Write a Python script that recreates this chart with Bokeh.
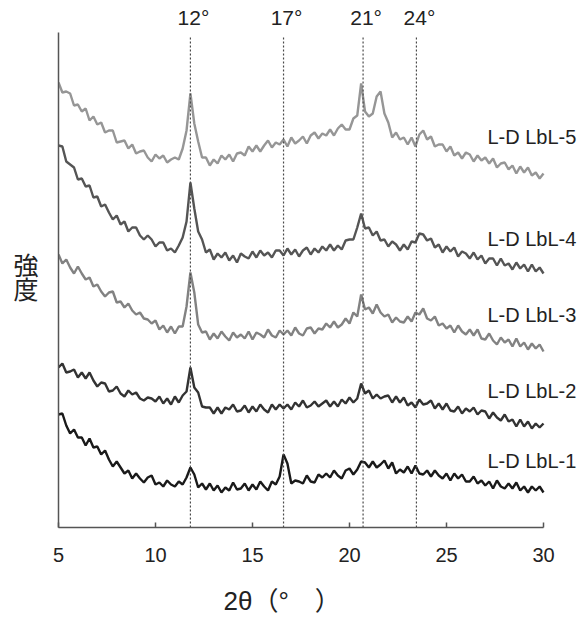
from bokeh.plotting import figure
from bokeh.models import Range1d, FixedTicker, Title
from bokeh.core.properties import value
from bokeh.embed import file_html
from bokeh.resources import INLINE

# ---- data ----
two_theta = [round(5.0 + 0.2 * i, 1) for i in range(126)]  # scan grid 5..30 deg

lbl5 = [445, 435, 436, 434, 422, 423, 416, 419, 407, 411,
        403, 405, 395, 397, 397, 385, 386, 387, 379, 383,
        374, 376, 377, 370, 366, 373, 369, 372, 365, 368,
        370, 368, 379, 397, 434, 404, 386, 370, 370, 362,
        368, 364, 372, 368, 373, 366, 374, 375, 372, 381,
        376, 382, 376, 382, 387, 380, 385, 383, 388, 381,
        390, 384, 387, 391, 384, 392, 395, 389, 394, 392,
        398, 392, 399, 403, 398, 398, 409, 412, 444, 416,
        411, 414, 431, 436, 414, 405, 390, 395, 388, 390,
        383, 390, 381, 393, 397, 388, 391, 381, 383, 383,
        376, 381, 372, 375, 369, 375, 373, 366, 372, 367,
        370, 364, 369, 360, 364, 365, 358, 362, 354, 361,
        355, 360, 352, 355, 349, 354]

lbl4 = [382, 381, 366, 363, 360, 348, 349, 341, 342, 330,
        331, 321, 323, 315, 308, 312, 303, 306, 296, 300,
        300, 292, 288, 292, 288, 281, 285, 285, 277, 279,
        275, 282, 290, 306, 345, 319, 296, 288, 275, 278,
        268, 274, 270, 275, 267, 272, 265, 274, 271, 269,
        276, 270, 277, 272, 275, 270, 277, 277, 272, 279,
        273, 278, 271, 277, 280, 273, 279, 275, 281, 277,
        283, 277, 282, 278, 287, 288, 288, 300, 314, 299,
        300, 292, 296, 287, 288, 281, 286, 283, 277, 283,
        278, 286, 285, 294, 293, 287, 289, 280, 283, 275,
        281, 276, 280, 271, 276, 274, 269, 275, 268, 272,
        264, 269, 269, 262, 269, 262, 264, 258, 265, 259,
        263, 256, 263, 256, 260, 254]

lbl3 = [273, 264, 268, 260, 254, 261, 254, 248, 250, 241,
        243, 236, 231, 235, 236, 225, 226, 220, 224, 217,
        213, 215, 209, 208, 204, 207, 198, 202, 195, 201,
        194, 201, 201, 221, 255, 235, 203, 195, 196, 188,
        194, 189, 196, 191, 187, 195, 190, 193, 189, 196,
        188, 195, 193, 190, 198, 192, 190, 197, 193, 197,
        192, 200, 194, 192, 199, 200, 194, 199, 198, 204,
        200, 206, 200, 203, 209, 204, 215, 211, 233, 218,
        220, 214, 223, 215, 211, 213, 205, 210, 206, 205,
        211, 206, 215, 213, 219, 209, 207, 211, 202, 204,
        199, 202, 195, 202, 196, 193, 198, 192, 198, 189,
        188, 194, 187, 183, 190, 185, 188, 181, 189, 181,
        185, 178, 184, 179, 183, 176]

lbl2 = [160, 164, 155, 156, 158, 150, 155, 149, 155, 147,
        141, 145, 144, 136, 137, 141, 134, 131, 137, 133,
        135, 129, 127, 130, 129, 126, 131, 124, 129, 123,
        131, 125, 132, 136, 160, 140, 135, 121, 120, 120,
        114, 120, 114, 120, 118, 123, 116, 117, 122, 115,
        121, 116, 123, 118, 115, 123, 118, 123, 119, 123,
        118, 125, 121, 127, 120, 122, 126, 121, 124, 127,
        121, 126, 121, 128, 124, 130, 125, 129, 144, 134,
        137, 129, 133, 129, 131, 132, 125, 131, 125, 130,
        122, 125, 120, 128, 123, 124, 127, 119, 124, 118,
        124, 117, 116, 121, 114, 119, 116, 120, 113, 117,
        116, 109, 115, 110, 107, 113, 106, 108, 101, 108,
        101, 106, 99, 104, 100, 104]

lbl1 = [113, 114, 102, 94, 98, 90, 90, 82, 89, 80,
        81, 73, 77, 68, 61, 66, 60, 54, 57, 49,
        54, 49, 45, 50, 52, 43, 45, 41, 47, 43,
        41, 46, 43, 50, 60, 53, 40, 44, 38, 44,
        37, 42, 35, 40, 37, 45, 38, 39, 44, 37,
        43, 38, 46, 41, 37, 46, 43, 51, 73, 64,
        44, 47, 46, 44, 52, 46, 45, 53, 50, 54,
        50, 57, 52, 49, 57, 59, 53, 58, 66, 65,
        60, 66, 60, 63, 67, 59, 65, 54, 58, 55,
        61, 54, 62, 54, 53, 57, 51, 57, 52, 49,
        54, 47, 54, 49, 53, 46, 46, 51, 44, 47,
        42, 46, 39, 47, 41, 39, 44, 39, 45, 37,
        41, 35, 41, 37, 41, 35]

series_names = ["L-D LbL-5", "L-D LbL-4", "L-D LbL-3", "L-D LbL-2", "L-D LbL-1"]
series_values = [lbl5, lbl4, lbl3, lbl2, lbl1]
peak_positions = [11.8, 16.6, 20.7, 23.45]
peak_labels = ["12°", "17°", "21°", "24°"]
x_ticks = [5, 10, 15, 20, 25, 30]
x_title = "2θ（°　）"
y_title = "\n強\n度"

# ---- styling / layout ----
series_colors = ["#969696", "#555555", "#828282", "#333333", "#1a1a1a"]
name_y = [391, 289, 213, 137, 67]
FONT = "Liberation Sans"
CJK = "Noto Sans CJK JP"

p = figure(width=586, height=634, output_backend="svg", toolbar_location=None,
           x_range=Range1d(5, 5 + 528 / 19.4), y_range=Range1d(0, 527),
           min_border_left=58, min_border_right=0, min_border_top=0,
           min_border_bottom=107)
p.outline_line_color = None
p.xgrid.visible = False
p.ygrid.visible = False
p.background_fill_color = "white"
p.border_fill_color = "white"

for ys, col in zip(series_values, series_colors):
    p.line(two_theta, ys, line_color=col, line_width=2.4, line_join="bevel")

p.segment(x0=peak_positions, y0=[0] * len(peak_positions),
          x1=peak_positions, y1=[490] * len(peak_positions),
          line_color="#4a4a4a", line_width=1.2, line_dash="2 2")

p.text(x=peak_positions, y=[510] * len(peak_positions), text=peak_labels,
       text_font=value(FONT), text_font_size="21px", text_color="#222222",
       text_align="center", text_baseline="middle", x_offset=3)

p.text(x=[27.11] * len(series_names), y=name_y, text=series_names,
       text_font=value(FONT), text_font_size="20px", text_color="#222222",
       text_align="left", text_baseline="middle")

# axes
xa = p.xaxis[0]
xa.ticker = FixedTicker(ticks=x_ticks)
xa.bounds = (5, 30)
xa.major_tick_in = 5
xa.major_tick_out = 0
xa.minor_tick_line_color = None
xa.axis_line_color = "#555555"
xa.axis_line_width = 1.5
xa.major_tick_line_color = "#555555"
xa.major_tick_line_width = 1.5
xa.major_label_text_font = FONT
xa.major_label_text_font_size = "20px"
xa.major_label_text_color = "#222222"
xa.major_label_standoff = 20

ya = p.yaxis[0]
ya.ticker = FixedTicker(ticks=[])
ya.bounds = (0, 495)
ya.axis_line_color = "#555555"
ya.axis_line_width = 1.5
ya.major_tick_line_color = None
ya.minor_tick_line_color = None
ya.major_tick_out = 0
ya.major_tick_in = 0
ya.major_label_standoff = 0
ya.major_label_text_font_size = "0px"
ya.axis_label = y_title
ya.axis_label_orientation = "horizontal"
ya.axis_label_text_font = CJK
ya.axis_label_text_font_size = "25px"
ya.axis_label_text_font_style = "normal"
ya.axis_label_text_color = "#222222"
ya.axis_label_text_line_height = 0.66
ya.axis_label_standoff = 20

p.add_layout(Title(text=x_title, align="left", offset=165,
                   text_font=FONT + ", " + CJK, text_font_size="26px",
                   text_font_style="normal", text_color="#222222",
                   standoff=38), "below")

open("out.html", "w").write(file_html(p, INLINE))
